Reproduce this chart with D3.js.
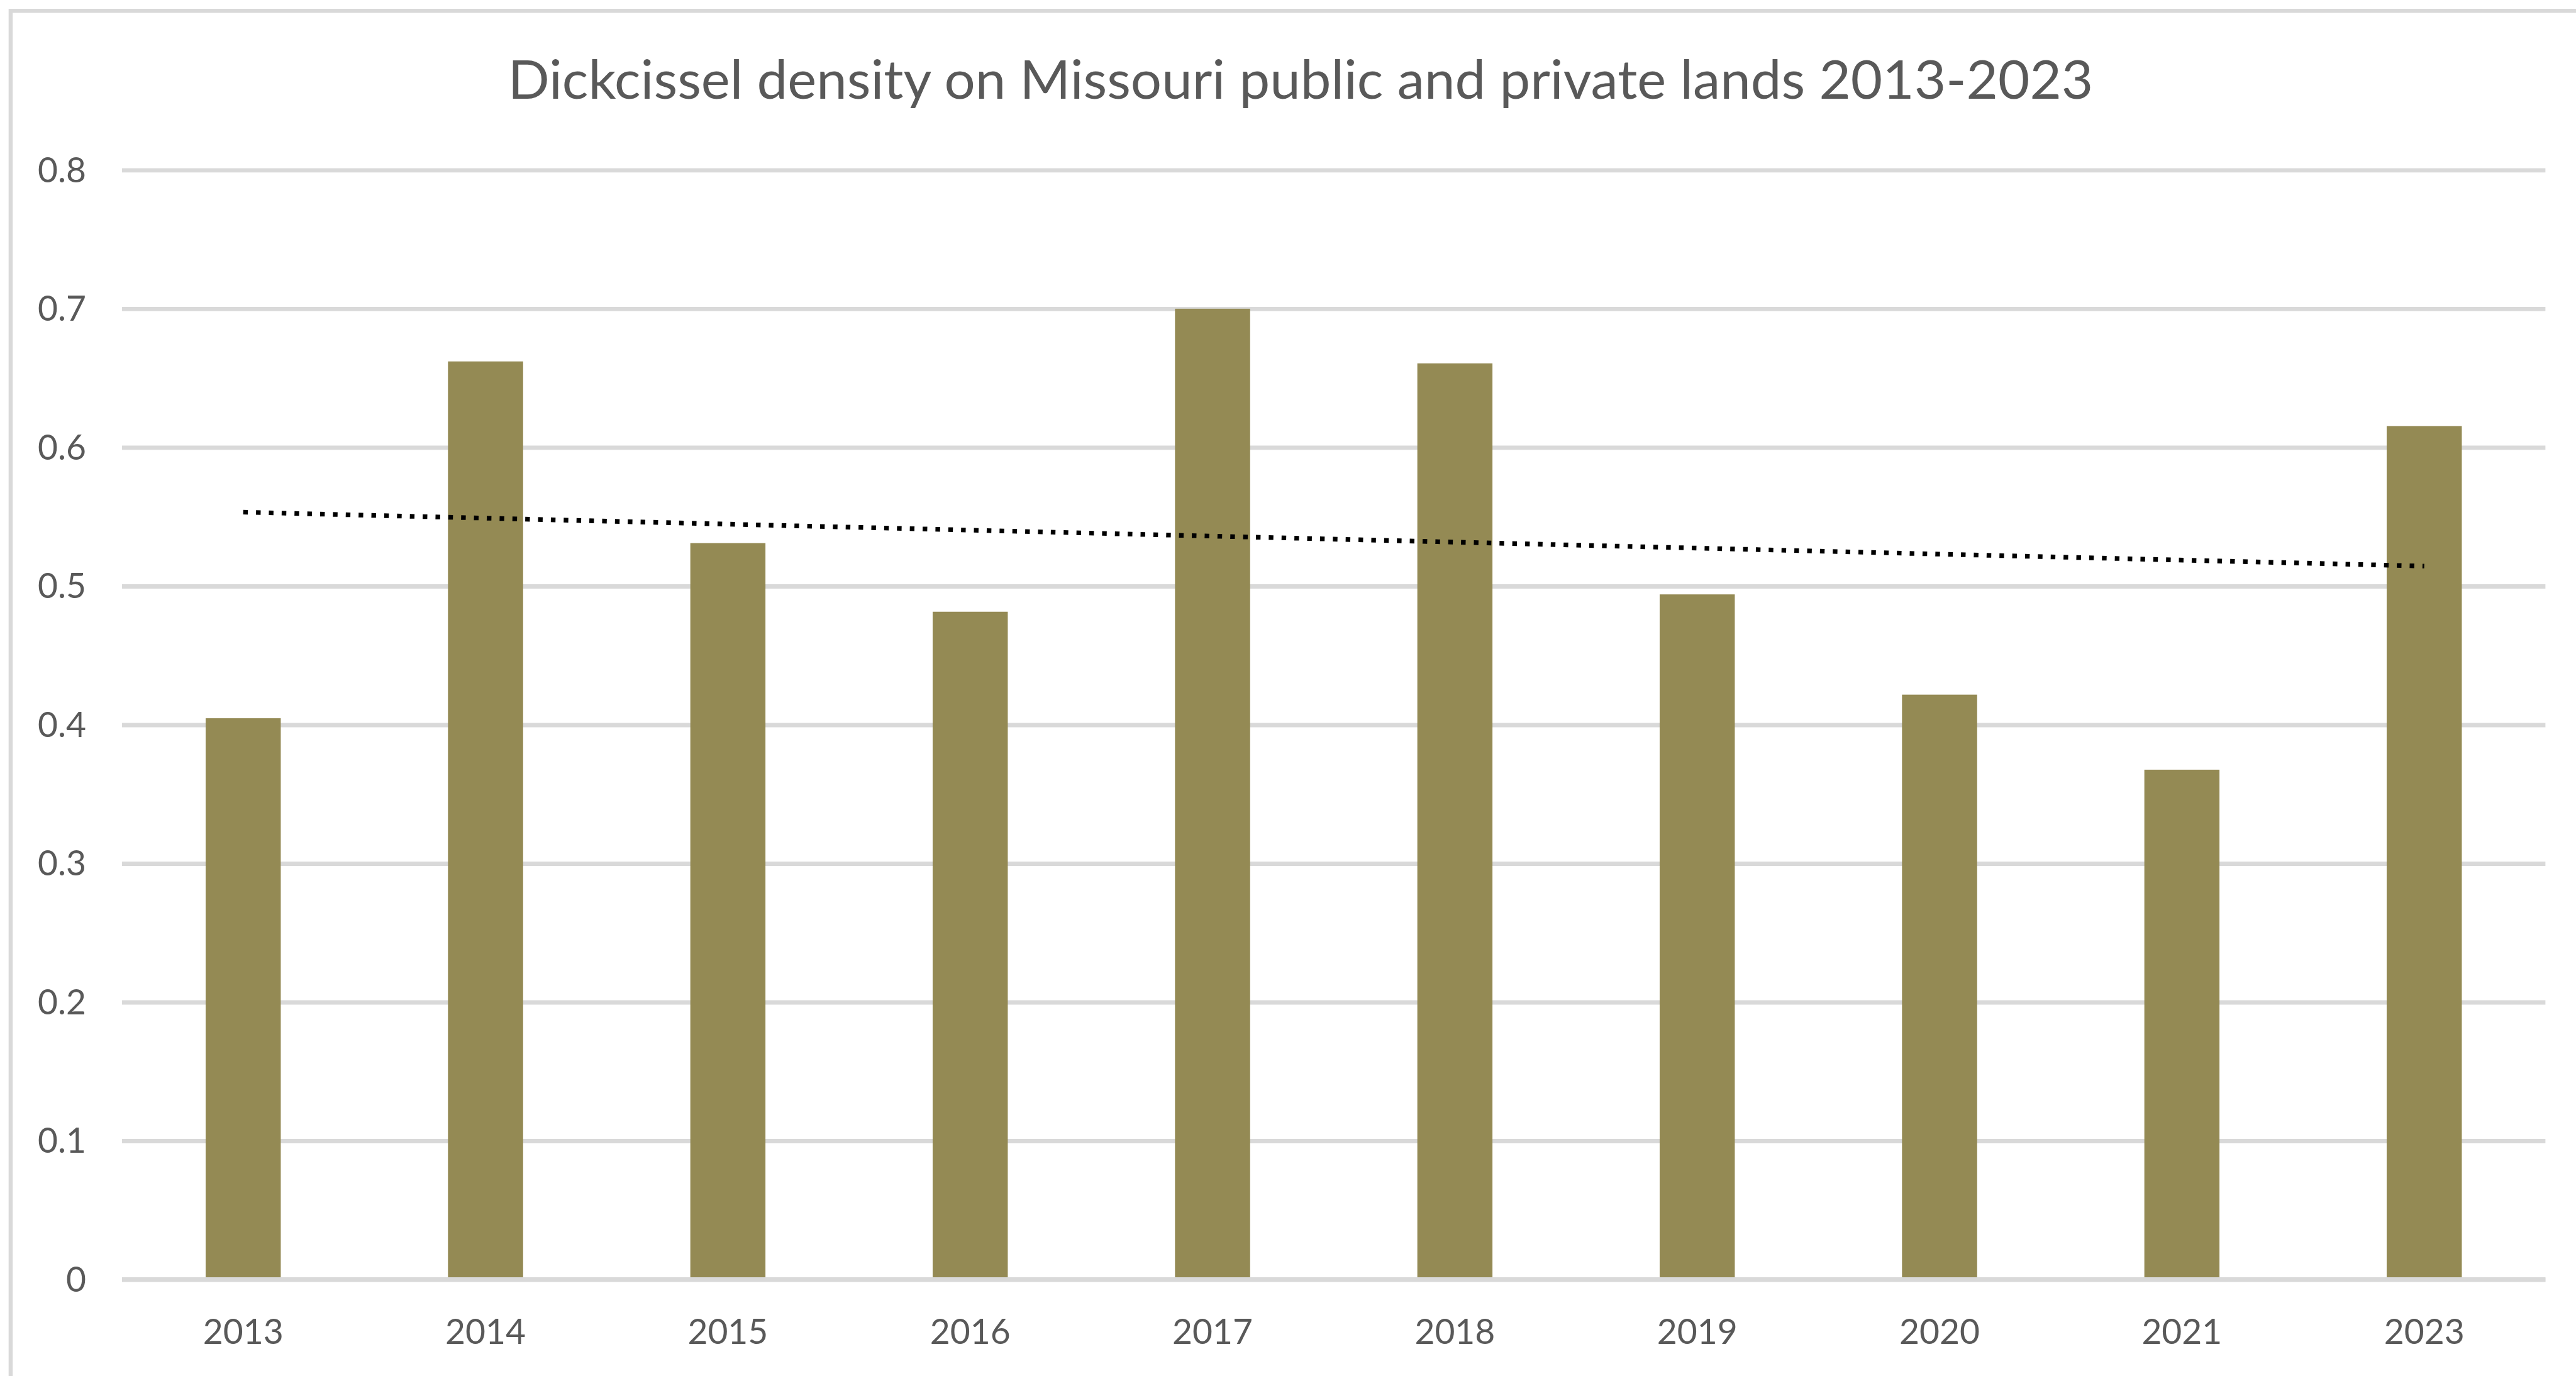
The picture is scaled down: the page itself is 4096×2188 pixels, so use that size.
<!DOCTYPE html>
<html>
<head>
<meta charset="utf-8">
<script src="https://cdn.jsdelivr.net/npm/d3@7"></script>
<style>
  html, body { margin: 0; padding: 0; background: #ffffff; }
  svg { display: block; }
</style>
</head>
<body>
<script>
// chart data
var years = ["2013", "2014", "2015", "2016", "2017", "2018", "2019", "2020", "2021", "2023"];
var density = [0.4047, 0.662, 0.531, 0.4815, 0.70, 0.6606, 0.494, 0.4217, 0.3676, 0.6154];
var yTicks = [0, 0.1, 0.2, 0.3, 0.4, 0.5, 0.6, 0.7, 0.8];
var chartTitle = "Dickcissel density on Missouri public and private lands 2013-2023";

var s = 0.985;   // reference -> window
var canvasWidth = 4096;
var canvasHeight = 2188;

// plot area (window.top is read-only, so no "top" here)
var plotLeft = 197 * s, plotRight = 4109 * s;
var plotTop = 274.5 * s, plotBottom = 2065.5 * s;

var gray = "#d9d9d9";
var textColor = "#595959";
var barColor = "#948a54";
var font = "Lato, 'Open Sans', sans-serif";

var svg = d3.select("body")
    .append("svg")
    .attr("width", canvasWidth)
    .attr("height", canvasHeight);

svg.append("rect")
    .attr("x", 0).attr("y", 0)
    .attr("width", canvasWidth).attr("height", canvasHeight)
    .style("fill", "#ffffff");

// chart border (only top and left end inside the picture)
svg.append("rect")
    .attr("x", 17.2 * s)
    .attr("y", 17.5 * s)
    .attr("width", canvasWidth + 100)
    .attr("height", canvasHeight + 100)
    .style("fill", "none")
    .style("stroke", gray)
    .style("stroke-width", 6.6 * s);

var x = d3.scaleBand()
    .domain(years)
    .range([plotLeft, plotRight])
    .paddingInner(0.69)
    .paddingOuter(0.345);

var y = d3.scaleLinear()
    .domain([0, 0.8])
    .range([plotBottom, plotTop]);

// y axis + gridlines
var yAxis = svg.append("g")
    .attr("transform", "translate(" + plotLeft + ",0)")
    .call(d3.axisLeft(y)
        .tickValues(yTicks)
        .tickFormat(function(d) { return d === 0 ? "0" : d3.format(".1f")(d); })
        .tickSizeInner(-(plotRight - plotLeft))
        .tickSizeOuter(0)
        .tickPadding(58 * s));

yAxis.select(".domain").remove();
yAxis.selectAll(".tick line")
    .style("stroke", gray)
    .style("stroke-width", 7 * s);
yAxis.selectAll(".tick text")
    .attr("dy", "0.34em")
    .style("font-family", font)
    .style("font-size", (56 * s) + "px")
    .style("fill", textColor);

// bars
svg.append("g")
    .selectAll("rect")
    .data(density)
    .enter()
    .append("rect")
    .attr("x", function(d, i) { return x(years[i]); })
    .attr("y", function(d) { return y(d); })
    .attr("width", x.bandwidth())
    .attr("height", function(d) { return plotBottom - y(d); })
    .style("fill", barColor);

// horizontal axis line sits over the bars
svg.append("line")
    .attr("x1", plotLeft).attr("x2", plotRight)
    .attr("y1", y(0)).attr("y2", y(0))
    .style("stroke", gray)
    .style("stroke-width", 7 * s);

// x axis labels
var xAxis = svg.append("g")
    .attr("transform", "translate(0," + plotBottom + ")")
    .call(d3.axisBottom(x).tickSize(0));

xAxis.select(".domain").remove();
xAxis.selectAll(".tick text")
    .attr("y", 2170 * s - plotBottom)
    .attr("dy", 0)
    .style("font-family", font)
    .style("font-size", (56 * s) + "px")
    .style("fill", textColor);

// linear trendline (least squares on the bar values, like Excel)
var idx = d3.range(1, density.length + 1);
var mx = d3.mean(idx), my = d3.mean(density);
var slope = d3.sum(idx, function(v, i) { return (v - mx) * (density[i] - my); }) /
            d3.sum(idx, function(v) { return (v - mx) * (v - mx); });
var trend = idx.map(function(v, i) { return [years[i], my + slope * (v - mx)]; });
var trendEnds = [trend[0], trend[trend.length - 1]];

svg.append("path")
    .datum(trendEnds)
    .attr("d", d3.line()
        .x(function(d) { return x(d[0]) + x.bandwidth() / 2; })
        .y(function(d) { return y(d[1]); }))
    .style("fill", "none")
    .style("stroke", "#000000")
    .style("stroke-width", 7.5 * s)
    .style("stroke-dasharray", (7.5 * s) + "," + (13.2 * s));

// title
var title = svg.append("text")
    .attr("x", 2099.5 * s)
    .attr("y", 159.5 * s)
    .attr("text-anchor", "middle")
    .style("font-family", font)
    .style("font-size", (87 * s) + "px")
    .style("fill", textColor)
    .text(chartTitle);

var targetW = 2559 * s;
if (Math.abs(title.node().getComputedTextLength() - targetW) > 20) {
    title.attr("textLength", targetW).attr("lengthAdjust", "spacingAndGlyphs");
}
</script>
</body>
</html>
